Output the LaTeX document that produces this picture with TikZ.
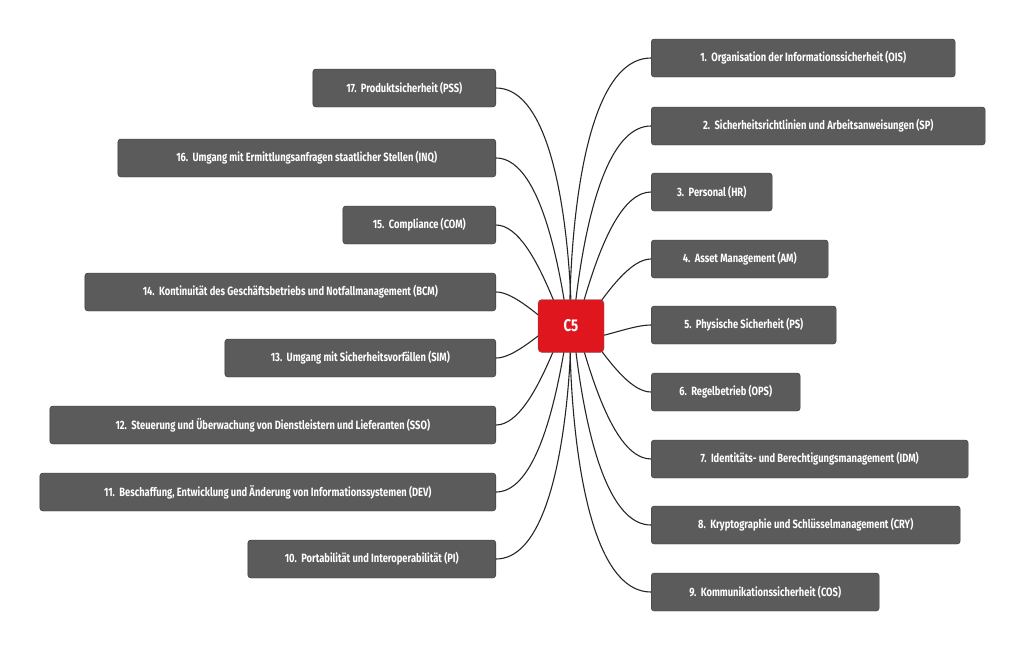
\documentclass[tikz,border=0pt]{standalone}
\usepackage{fontspec}
\setmainfont{Fira Sans}[FakeStretch=0.78]
\usetikzlibrary{backgrounds}
\definecolor{boxgray}{HTML}{5B5B5B}
\definecolor{centerred}{HTML}{E0161E}
\tikzset{
  topic/.style={draw=black!80, fill=boxgray, rounded corners=3pt, text=white,
    font=\bfseries\fontsize{12}{14}\selectfont, minimum height=38pt, inner xsep=8pt},
  hub/.style={draw=black!60, fill=centerred, rounded corners=4pt, text=white,
    font=\bfseries\fontsize{17}{19}\selectfont, minimum width=66pt, minimum height=53pt},
  branch/.style={draw=black!85, line width=1.1pt}
}
\begin{document}
\begin{tikzpicture}[x=1pt,y=-1pt]
\useasboundingbox (0,0) rectangle (1024,654);
\node[hub] (c5) at (571,326) {C5};
% right side
\foreach \n/\txt/\w/\y in {
  1/{Organisation der Informationssicherheit (OIS)}/304/58,
  2/{Sicherheitsrichtlinien und Arbeitsanweisungen (SP)}/334/126,
  3/{Personal (HR)}/121/192,
  4/{Asset Management (AM)}/177/259,
  5/{Physische Sicherheit (PS)}/185/325,
  6/{Regelbetrieb (OPS)}/149/392,
  7/{Identitäts- und Berechtigungsmanagement (IDM)}/317/459,
  8/{Kryptographie und Schlüsselmanagement (CRY)}/309/525,
  9/{Kommunikationssicherheit (COS)}/228/592}{
  \node[topic, minimum width=\w pt, anchor=west] (r\n) at (651,\y) {\n.\ \ \txt};
  \begin{scope}[on background layer]
    \draw[branch] (c5.center) to[out={\y<326 ? -90 : 90}, in=180, looseness=0.9] (r\n.west);
  \end{scope}
}
% left side
\foreach \n/\txt/\w/\y in {
  17/{Produktsicherheit (PSS)}/183/88,
  16/{Umgang mit Ermittlungsanfragen staatlicher Stellen (INQ)}/378/158,
  15/{Compliance (COM)}/153/225,
  14/{Kontinuität des Geschäftsbetriebs und Notfallmanagement (BCM)}/411/292,
  13/{Umgang mit Sicherheitsvorfällen (SIM)}/271/358,
  12/{Steuerung und Überwachung von Dienstleistern und Lieferanten (SSO)}/446/425,
  11/{Beschaffung, Entwicklung und Änderung von Informationssystemen (DEV)}/456/492,
  10/{Portabilität und Interoperabilität (PI)}/248/559}{
  \node[topic, minimum width=\w pt, anchor=east] (l\n) at (496,\y) {\n.\ \ \txt};
  \begin{scope}[on background layer]
    \draw[branch] (c5.center) to[out={\y<326 ? -90 : 90}, in=0, looseness=0.9] (l\n.east);
  \end{scope}
}
\end{tikzpicture}
\end{document}
